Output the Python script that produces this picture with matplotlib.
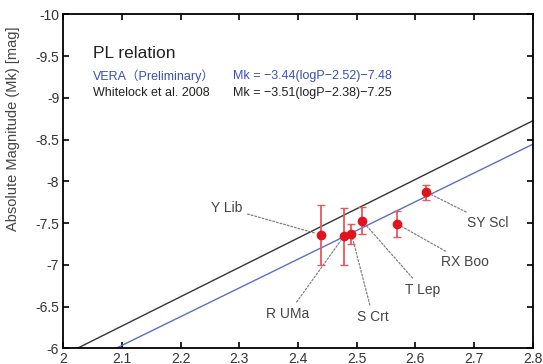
import numpy as np
import matplotlib.pyplot as plt

plt.rcParams["font.family"] = ["Liberation Sans", "Noto Sans CJK JP", "DejaVu Sans"]

# stars: log period, absolute magnitude, error
names = ["Y Lib", "R UMa", "S Crt", "T Lep", "RX Boo", "SY Scl"]
logp = [2.439, 2.478, 2.491, 2.509, 2.569, 2.619]
mk = [-7.36, -7.34, -7.37, -7.53, -7.49, -7.87]
mk_err = [0.36, 0.34, 0.12, 0.16, 0.155, 0.09]

# label positions (data coords)
label_x = [2.278, 2.383, 2.528, 2.613, 2.685, 2.724]
label_y = [-7.68, -6.41, -6.37, -6.70, -7.03, -7.50]

# PL relations: slope, pivot, zero point
vera = (-3.44, 2.52, -7.48)
whitelock = (-3.51, 2.38, -7.25)

xticks = [2, 2.1, 2.2, 2.3, 2.4, 2.5, 2.6, 2.7, 2.8]
yticks = [-10, -9.5, -9, -8.5, -8, -7.5, -7, -6.5, -6]

fig = plt.figure(figsize=(5.43, 3.64), dpi=100)
ax = fig.add_axes([0.1166, 0.0431, 0.8644, 0.9176])

xx = np.array([1.9, 2.9])
ax.plot(xx, whitelock[0] * (xx - whitelock[1]) + whitelock[2], color="#333333", lw=1.0)
ax.plot(xx, vera[0] * (xx - vera[1]) + vera[2], color="#5b6fc4", lw=1.0)

ax.errorbar(logp, mk, yerr=mk_err, fmt="o", color="#e0141c", ecolor="#e8585c",
            elinewidth=1.3, capsize=3, markersize=6, zorder=5)

for name, x, y, tx, ty in zip(names, logp, mk, label_x, label_y):
    ax.annotate(name, xy=(x, y), xytext=(tx, ty), ha="center", va="center",
                fontsize=10, color="#444444",
                arrowprops=dict(arrowstyle="-", color="#808080", lw=0.9,
                                linestyle=(0, (1.5, 1.5)), shrinkA=2, shrinkB=4))

ax.text(0.063, 0.883, "PL relation", transform=ax.transAxes, fontsize=12.5,
        color="#222222", va="center")
ax.text(0.063, 0.816, "VERA（Preliminary）", transform=ax.transAxes, fontsize=9,
        color="#3a4fb8", va="center")
ax.text(0.362, 0.816, "Mk = −3.44(logP−2.52)−7.48", transform=ax.transAxes,
        fontsize=9, color="#3a4fb8", va="center")
ax.text(0.063, 0.763, "Whitelock et al. 2008", transform=ax.transAxes, fontsize=9,
        color="#222222", va="center")
ax.text(0.362, 0.763, "Mk = −3.51(logP−2.38)−7.25", transform=ax.transAxes,
        fontsize=9, color="#222222", va="center")

ax.set_xlim(2, 2.8)
ax.set_ylim(-6, -10)
ax.set_xticks(xticks)
ax.set_xticklabels([f"{t:g}" for t in xticks])
ax.set_yticks(yticks)
ax.set_yticklabels([f"{t:g}" for t in yticks])
ax.tick_params(direction="in", top=True, right=True, length=4, width=1.2,
               labelsize=10, labelcolor="#333333", pad=3)
for s in ax.spines.values():
    s.set_linewidth(1.3)
ax.set_ylabel("Absolute Magnitude (Mk) [mag]", fontsize=10.5, color="#444444")
ax.yaxis.set_label_coords(-0.092, 0.657)

fig.savefig("out.png", dpi=100)
